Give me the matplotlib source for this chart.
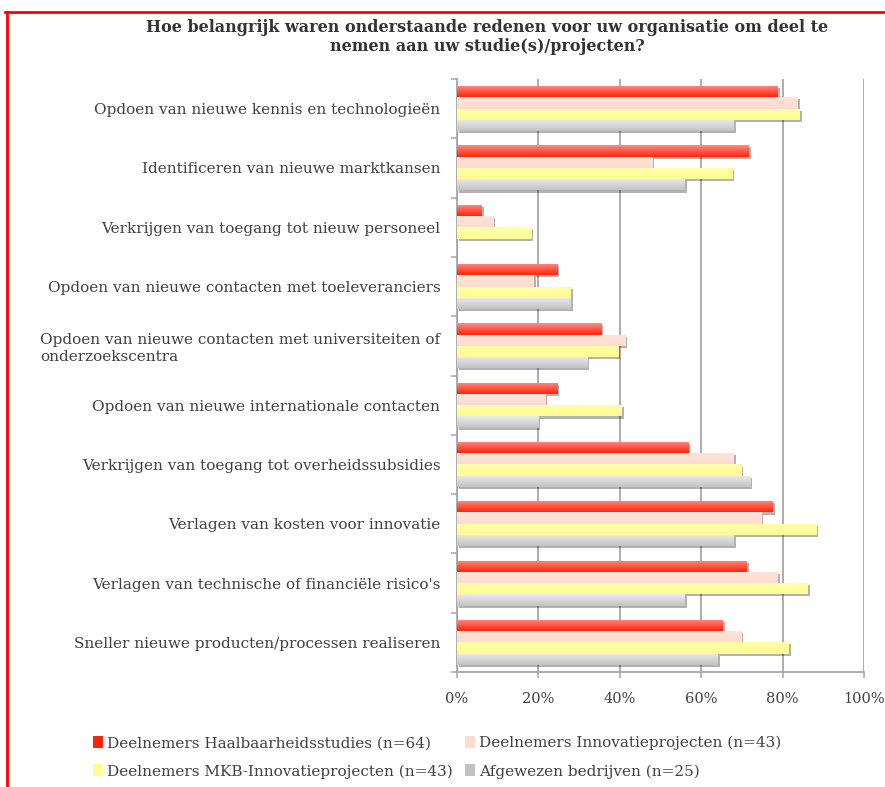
import numpy as np
import matplotlib
matplotlib.use("Agg")
import matplotlib.pyplot as plt
import matplotlib.patheffects as pe
from matplotlib.colors import LinearSegmentedColormap
from matplotlib.lines import Line2D
from matplotlib.patches import Rectangle

plt.rcParams['font.family'] = ['DejaVu Serif']

redenen = [
    'Opdoen van nieuwe kennis en technologieën',
    'Identificeren van nieuwe marktkansen',
    'Verkrijgen van toegang tot nieuw personeel',
    'Opdoen van nieuwe contacten met toeleveranciers',
    'Opdoen van nieuwe contacten met universiteiten of\nonderzoekscentra',
    'Opdoen van nieuwe internationale contacten',
    'Verkrijgen van toegang tot overheidssubsidies',
    'Verlagen van kosten voor innovatie',
    "Verlagen van technische of financiële risico's",
    'Sneller nieuwe producten/processen realiseren',
]

# percentages per groep, in volgorde van redenen
haalbaarheid = [78.8, 71.7, 6.1, 24.6, 35.4, 24.6, 56.8, 77.5, 71.2, 65.3]
innovatie = [83.7, 48.0, 8.9, 18.8, 41.3, 21.7, 68.0, 74.7, 78.8, 69.8]
mkb = [84.2, 67.6, 18.2, 28.0, 39.6, 40.5, 69.8, 88.3, 86.1, 81.5]
afgewezen = [68.0, 56.0, 0.0, 28.0, 32.0, 20.0, 72.0, 68.0, 56.0, 64.0]

labels = ['Deelnemers Haalbaarheidsstudies (n=64)',
          'Deelnemers Innovatieprojecten (n=43)',
          'Deelnemers MKB-Innovatieprojecten (n=43)',
          'Afgewezen bedrijven (n=25)']

tekst = '#404040'
raster = '#a6a6a6'

fig = plt.figure(figsize=(8.85, 7.87), dpi=100)
ax = fig.add_axes([457/885, 1 - 672/787, 407/885, 593/787])

y = np.arange(len(redenen))
h = 0.19
schaduw = [pe.SimplePatchShadow(offset=(1.5, -1.5), shadow_rgbFace='k', alpha=0.3), pe.Normal()]

reeksen = [
    (haalbaarheid, -1.5, ('#ff8c84', '#ff2408')),
    (innovatie, -0.5, ('#ffe4d8', '#fddccf')),
    (mkb, 0.5, ('#ffffa8', '#fffb92')),
    (afgewezen, 1.5, ('#ececec', '#c2c2c2')),
]


def verloop(ax, bars, kleuren):
    cmap = LinearSegmentedColormap.from_list('verloop', list(kleuren))
    grad = np.linspace(0, 1, 64).reshape(-1, 1)
    for b in bars:
        w = b.get_width()
        if w <= 0:
            continue
        x0, y0, bh = b.get_x(), b.get_y(), b.get_height()
        im = ax.imshow(grad, cmap=cmap, aspect='auto', origin='upper',
                       extent=(x0, x0 + w, y0 + bh, y0), zorder=3,
                       interpolation='bilinear')
        im.set_clip_path(b)


for waarden, pos, kleuren in reeksen:
    bars = ax.barh(y + pos * h, waarden, height=h, color=kleuren[1],
                   edgecolor='none', zorder=2, path_effects=schaduw)
    verloop(ax, bars, kleuren)

ax.set_xlim(0, 100)
ax.set_ylim(len(redenen) - 0.5, -0.5)
ax.set_axisbelow(True)

ax.set_xticks(np.arange(0, 101, 20))
ax.set_xticklabels([f'{v}%' for v in range(0, 101, 20)])
ax.xaxis.grid(True, color=raster, lw=1.3, zorder=0)
ax.tick_params(axis='x', direction='out', length=4.5, width=1.1, color=raster,
               labelcolor=tekst, labelsize=10.5, pad=10)

ax.set_yticks(y)
ax.set_yticklabels(redenen)
ax.set_yticks(np.arange(-0.5, len(redenen)), minor=True)
ax.tick_params(axis='y', which='major', length=0, pad=12, labelcolor=tekst, labelsize=11)
ax.tick_params(axis='y', which='minor', direction='out', length=4.5, width=1.1, color=raster)
for t in ax.get_yticklabels():
    t.set_multialignment('left')

for s in ['top', 'right']:
    ax.spines[s].set_visible(False)
for s in ['left', 'bottom']:
    ax.spines[s].set_color(raster)
    ax.spines[s].set_linewidth(1.3)

fig.text(487/885, 1 - 37/787,
         'Hoe belangrijk waren onderstaande redenen voor uw organisatie om deel te\n'
         'nemen aan uw studie(s)/projecten?',
         ha='center', va='center', fontsize=11.5, fontweight='bold', color='#333333',
         linespacing=1.15)

# legenda: kolomsgewijs gevuld, dus rood/geel links en perzik/grijs rechts
volgorde = [0, 2, 1, 3]
handles = [Rectangle((0, 0), 1, 1, facecolor=reeksen[i][2][1], edgecolor='none') for i in volgorde]
fig.legend(handles, [labels[i] for i in volgorde], ncol=2, loc='upper left',
           bbox_to_anchor=(93/885, 1 - 736/787), frameon=False, fontsize=11,
           labelcolor=tekst, handlelength=0.65, handleheight=0.8, handletextpad=0.28,
           columnspacing=0.8, labelspacing=0.9, borderaxespad=0, borderpad=0)

# rode kaderlijnen
fig.add_artist(Line2D([5/885, 1], [1 - 12/787, 1 - 12/787], transform=fig.transFigure,
                      color='#ff0000', lw=2))
fig.add_artist(Line2D([6.5/885, 6.5/885], [0, 1 - 12/787], transform=fig.transFigure,
                      color='#ff0000', lw=2))

fig.savefig('out.png', dpi=100)
